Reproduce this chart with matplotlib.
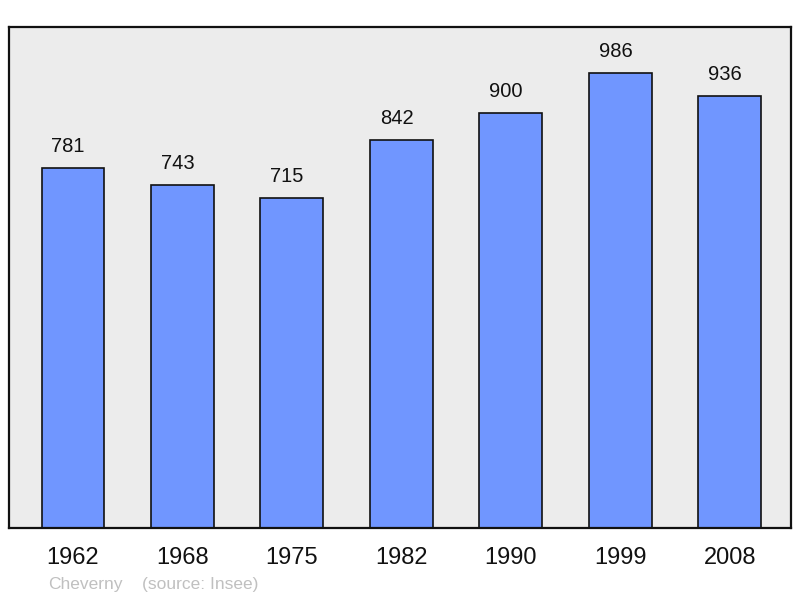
import matplotlib
matplotlib.use("Agg")
import matplotlib.pyplot as plt

years = ["1962", "1968", "1975", "1982", "1990", "1999", "2008"]
population = [781, 743, 715, 842, 900, 986, 936]
commune = "Cheverny"
source = "(source: Insee)"

plt.rcParams['font.family'] = ['Liberation Sans', 'DejaVu Sans']

fig = plt.figure(figsize=(8, 5.98), dpi=100)
ax = fig.add_axes([0.01125, 0.117, 0.9775, 0.838])
ax.set_facecolor('#ececec')

x = range(len(years))
bars = ax.bar(x, population, width=0.575, color='#7096ff', edgecolor='#111111', linewidth=1.2, zorder=2)

# value labels above each bar (slightly left of centre, like the original)
for xi, v in zip(x, population):
    ax.annotate(str(v), (xi, v), xytext=(-3.5, 8.5), textcoords='offset points',
                ha='center', va='bottom', fontsize=14.5, color='#111111')

ax.set_xlim(-0.585, 6.56)
ax.set_ylim(0, 1086)
ax.set_xticks(list(x))
ax.set_xticklabels(years, fontsize=17, color='#111111')
ax.tick_params(axis='x', length=0, pad=14)
ax.set_yticks([])
for s in ax.spines.values():
    s.set_linewidth(1.6)
    s.set_color('#111111')

fig.text(48 / 800, 1 - 585 / 598, commune, fontsize=12.5, color='#c0c0c0', va='center')
fig.text(142 / 800, 1 - 585 / 598, source, fontsize=12.5, color='#c0c0c0', va='center')

fig.savefig('out.png', dpi=100)
